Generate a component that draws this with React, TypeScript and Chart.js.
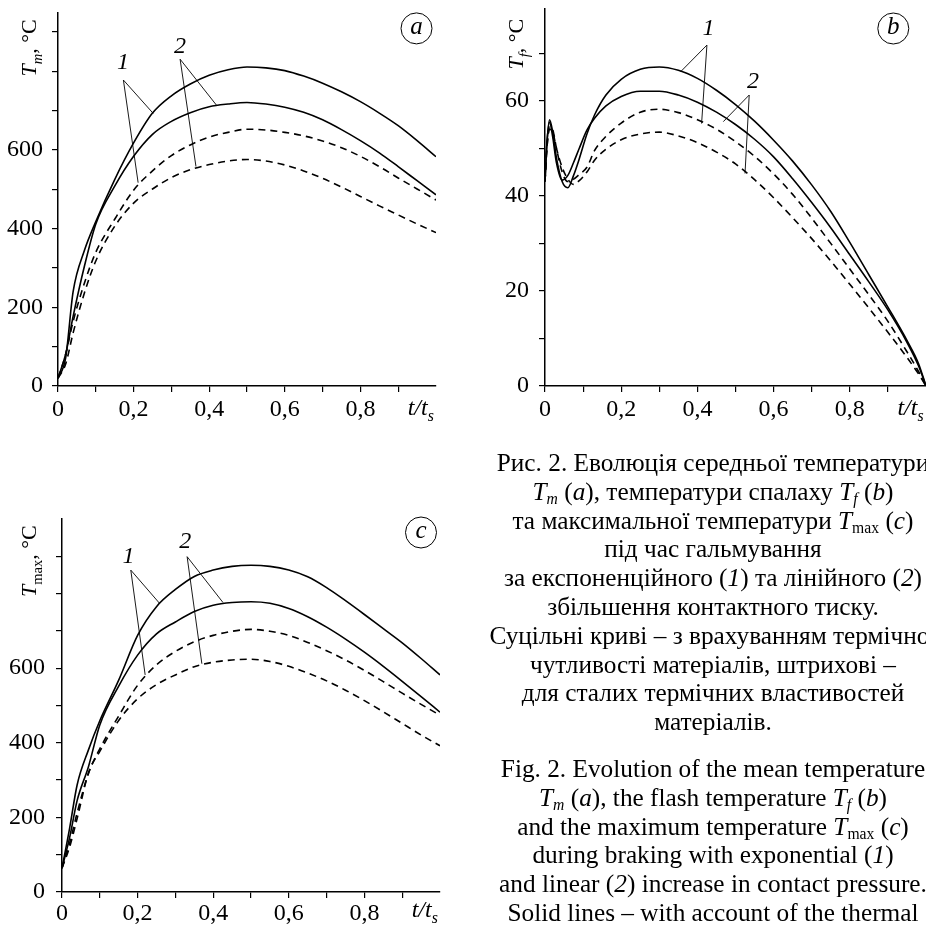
import React, { useEffect, useRef } from 'react';
import { Chart, registerables } from 'chart.js';

Chart.register(...registerables);

const SERIF = '"Liberation Serif", "Times New Roman", Times, serif';

// ---------- (a) mean temperature Tm ----------
const tA = [0, 0.02, 0.04, 0.07, 0.1, 0.15, 0.2, 0.25, 0.3, 0.35, 0.4, 0.45, 0.5, 0.55, 0.6, 0.65, 0.7, 0.75, 0.8, 0.85, 0.9, 0.95, 1.0];
const tmExpVar = [20, 70, 240, 345, 418, 525, 618, 694, 738, 768, 790, 804, 811, 809, 802, 788, 770, 748, 723, 694, 662, 624, 583];
const tmLinVar = [20, 80, 177, 305, 412, 508, 584, 640, 673, 695, 710, 717, 721, 717, 709, 696, 677, 652, 624, 593, 558, 522, 486];
const tmExpConst = [20, 80, 164, 262, 340, 424, 498, 547, 586, 613, 633, 645, 653, 651, 645, 636, 623, 606, 584, 558, 529, 501, 473];
const tmLinConst = [20, 55, 135, 237, 318, 406, 465, 501, 530, 550, 563, 572, 576, 572, 562, 547, 528, 506, 482, 458, 435, 412, 390];

// ---------- (b) flash temperature Tf ----------
const tB = [0, 0.005, 0.012, 0.02, 0.03, 0.045, 0.06, 0.075, 0.09, 0.11, 0.13, 0.16, 0.2, 0.25, 0.3, 0.35, 0.4, 0.45, 0.5, 0.55, 0.6, 0.65, 0.7, 0.75, 0.8, 0.85, 0.9, 0.95, 0.98, 1.0];
const tfExpVar = [43, 51, 56, 53.5, 48, 43, 41.7, 44.3, 47.8, 53, 57, 61.2, 64.5, 66.6, 67.1, 66.4, 64.7, 62.2, 59.2, 55.7, 51.7, 47.3, 42.3, 36.7, 30.2, 23.4, 16.6, 9.6, 4.8, 0];
const tfLinVar = [43, 51, 55.5, 52.5, 47, 43.3, 44.3, 47, 50, 53.8, 56.3, 58.9, 60.9, 62.0, 62.0, 61.2, 59.7, 57.6, 55.0, 51.9, 48.2, 43.6, 38.6, 33.3, 27.6, 21.9, 16.0, 9.2, 4.3, 0];
const tfExpConst = [43, 50, 54.5, 54, 50, 45, 43, 43.5, 44.5, 46, 49.5, 52.5, 55.3, 57.6, 58.2, 57.5, 56.0, 54.0, 51.4, 48.3, 44.6, 40.3, 35.3, 30.0, 24.6, 19.2, 13.6, 7.2, 3.1, 0];
const tfLinConst = [43, 50, 54, 53.5, 50, 46, 43.5, 42.4, 43.2, 45, 47.5, 49.8, 51.8, 53.0, 53.4, 52.6, 51.2, 49.2, 46.7, 43.4, 39.6, 35.4, 31.0, 26.3, 21.4, 16.4, 11.3, 6.0, 2.6, 0];

// ---------- (c) maximum temperature Tmax ----------
const tC = [0, 0.02, 0.04, 0.07, 0.1, 0.15, 0.2, 0.25, 0.3, 0.35, 0.4, 0.45, 0.5, 0.55, 0.6, 0.65, 0.7, 0.75, 0.8, 0.85, 0.9, 0.95, 1.0];
const tmaxExpVar = [64, 170, 287, 381, 459, 568, 688, 765, 811, 846, 863, 873, 876, 873, 863, 845, 816, 781, 744, 706, 668, 626, 582];
const tmaxLinVar = [64, 145, 245, 336, 448, 552, 635, 692, 724, 752, 769, 776, 778, 774, 760, 738, 710, 678, 643, 605, 565, 524, 482];
const tmaxExpConst = [64, 130, 212, 318, 384, 472, 554, 609, 645, 671, 688, 699, 704, 699, 688, 669, 647, 622, 594, 564, 533, 503, 474];
const tmaxLinConst = [64, 120, 197, 319, 377, 460, 518, 556, 582, 604, 616, 622, 624, 618, 605, 587, 566, 541, 513, 483, 452, 421, 392];

// leader annotations (data coordinates)
type Leader = { text: string; at: [number, number]; from: [number, number]; to: [number, number][] };
const leadersA: Leader[] = [
  { text: '1', at: [0.172, 821], from: [0.173, 778], to: [[0.252, 693], [0.212, 517]] },
  { text: '2', at: [0.323, 862], from: [0.323, 831], to: [[0.421, 712], [0.365, 558]] },
];
const leadersB: Leader[] = [
  { text: '1', at: [0.429, 75.2], from: [0.425, 71.7], to: [[0.356, 66.1], [0.411, 55.2]] },
  { text: '2', at: [0.546, 64.0], from: [0.536, 61.2], to: [[0.468, 55.6], [0.525, 44.7]] },
];
const leadersC: Leader[] = [
  { text: '1', at: [0.176, 900], from: [0.182, 863], to: [[0.258, 774], [0.220, 582]] },
  { text: '2', at: [0.326, 938], from: [0.331, 899], to: [[0.426, 776], [0.370, 612]] },
];

type Seg = { t: string; it?: boolean; sub?: boolean };

function drawRich(ctx: CanvasRenderingContext2D, segs: Seg[], size: number) {
  let x = 0;
  ctx.textAlign = 'left';
  ctx.textBaseline = 'alphabetic';
  for (const s of segs) {
    const fs = s.sub ? size * 0.66 : size;
    ctx.font = `${s.it ? 'italic ' : ''}${fs}px ${SERIF}`;
    const dy = s.sub ? size * 0.25 : 0;
    ctx.fillText(s.t, x, dy);
    x += ctx.measureText(s.t).width;
  }
}

type Series = { data: number[]; dashed: boolean };
type PanelProps = {
  left: number; top: number; width: number; height: number;
  padTop: number; padRight: number; yWidth: number; xHeight: number;
  t: number[]; series: Series[];
  yMax: number; yStep: number; yLabels: number[]; yTickMax: number; yPad: number; xPad: number;
  title: Seg[]; titleDx: number; titleDy: number;
  letter: string; circDx: number; circDy: number;
  xLabelBase: number;
  leaders: Leader[];
};

function Panel(p: PanelProps) {
  const ref = useRef<HTMLCanvasElement | null>(null);
  useEffect(() => {
    if (!ref.current) return;
    const deco = {
      id: 'deco',
      afterDraw(chart: any) {
        const ctx: CanvasRenderingContext2D = chart.ctx;
        const ca = chart.chartArea;
        const xs = chart.scales.x;
        const ys = chart.scales.y;
        ctx.save();
        ctx.fillStyle = '#000';
        ctx.strokeStyle = '#000';
        // y-axis title (rotated)
        ctx.save();
        ctx.translate(ca.left + p.titleDx, ca.top + p.titleDy);
        ctx.rotate(-Math.PI / 2);
        drawRich(ctx, p.title, 22);
        ctx.restore();
        // x-axis label t/t_s
        ctx.save();
        ctx.translate(xs.getPixelForValue(0.925), ca.bottom + p.xLabelBase);
        drawRich(ctx, [{ t: 't/t', it: true }, { t: 's', it: true, sub: true }], 24);
        ctx.restore();
        // circled letter
        const cx = ca.right + p.circDx;
        const cy = ca.top + p.circDy;
        ctx.lineWidth = 1;
        ctx.beginPath();
        ctx.arc(cx, cy, 15.5, 0, Math.PI * 2);
        ctx.stroke();
        ctx.font = `italic 25px ${SERIF}`;
        ctx.textAlign = 'center';
        ctx.textBaseline = 'middle';
        ctx.fillText(p.letter, cx, cy - 1);
        // leaders
        ctx.lineWidth = 0.9;
        for (const L of p.leaders) {
          const fx = xs.getPixelForValue(L.from[0]);
          const fy = ys.getPixelForValue(L.from[1]);
          for (const e of L.to) {
            ctx.beginPath();
            ctx.moveTo(fx, fy);
            ctx.lineTo(xs.getPixelForValue(e[0]), ys.getPixelForValue(e[1]));
            ctx.stroke();
          }
          ctx.font = `italic 24px ${SERIF}`;
          ctx.textAlign = 'center';
          ctx.textBaseline = 'middle';
          ctx.fillText(L.text, xs.getPixelForValue(L.at[0]), ys.getPixelForValue(L.at[1]));
        }
        ctx.restore();
      },
    };
    const chart = new Chart(ref.current, {
      type: 'line',
      data: {
        datasets: p.series.map((s) => ({
          data: p.t.map((x, i) => ({ x, y: s.data[i] })),
          borderColor: '#000',
          borderWidth: 1.6,
          borderDash: s.dashed ? [7, 5] : [],
          pointRadius: 0,
          fill: false,
          cubicInterpolationMode: 'monotone' as const,
        })),
      },
      options: {
        animation: false,
        responsive: false,
        maintainAspectRatio: false,
        events: [],
        layout: { padding: { top: p.padTop, right: p.padRight, left: 0, bottom: 0 } },
        plugins: { legend: { display: false }, tooltip: { enabled: false } },
        scales: {
          x: {
            type: 'linear',
            min: 0,
            max: 1,
            border: { display: true, color: '#000', width: 1.5 },
            grid: {
              drawOnChartArea: false,
              drawTicks: true,
              tickLength: 6,
              lineWidth: 1.2,
              color: (c: any) => (c.tick && c.tick.value > 0.99 ? 'rgba(0,0,0,0)' : '#000'),
            },
            ticks: {
              stepSize: 0.1,
              autoSkip: false,
              maxRotation: 0,
              minRotation: 0,
              includeBounds: false,
              padding: p.xPad,
              color: '#000',
              font: { family: SERIF, size: 24 },
              callback: (v: any) => {
                const k = Math.round(Number(v) * 10);
                if (k % 2 !== 0 || k >= 10) return '';
                return k === 0 ? '0' : '0,' + k;
              },
            },
            afterFit: (s: any) => {
              s.height = p.xHeight;
              s.paddingLeft = 0; s.paddingRight = 0; s.paddingTop = 0; s.paddingBottom = 0;
            },
          },
          y: {
            type: 'linear',
            min: 0,
            max: p.yMax,
            border: { display: true, color: '#000', width: 1.5 },
            grid: {
              drawOnChartArea: false,
              drawTicks: true,
              tickLength: 6,
              lineWidth: 1.2,
              color: (c: any) => (c.tick && c.tick.value > p.yTickMax ? 'rgba(0,0,0,0)' : '#000'),
            },
            ticks: {
              stepSize: p.yStep,
              autoSkip: false,
              includeBounds: false,
              padding: p.yPad,
              color: '#000',
              font: { family: SERIF, size: 24 },
              callback: (v: any) => (p.yLabels.includes(Math.round(Number(v))) ? String(Math.round(Number(v))) : ''),
            },
            afterFit: (s: any) => {
              s.width = p.yWidth;
              s.paddingLeft = 0; s.paddingRight = 0; s.paddingTop = 0; s.paddingBottom = 0;
            },
          },
        },
      } as any,
      plugins: [deco as any],
    });
    return () => chart.destroy();
  }, []);
  return (
    <canvas
      ref={ref}
      width={p.width}
      height={p.height}
      style={{ position: 'absolute', left: p.left, top: p.top, width: p.width, height: p.height, display: 'block' }}
    />
  );
}

const subStyle: React.CSSProperties = { fontSize: '0.62em', verticalAlign: '-0.28em', lineHeight: 0 };

const T = (s: string, upright = false) => (
  <span>
    <i>T</i>
    <sub style={subStyle}>{upright ? s : <i>{s}</i>}</sub>
  </span>
);

const uaLines: React.ReactNode[] = [
  <>Рис. 2. Еволюція середньої температури</>,
  <>{T('m')} (<i>a</i>), температури спалаху {T('f')} (<i>b</i>)</>,
  <>та максимальної температури {T('max', true)} (<i>c</i>)</>,
  <>під час гальмування</>,
  <>за експоненційного (<i>1</i>) та лінійного (<i>2</i>)</>,
  <>збільшення контактного тиску.</>,
  <>Суцільні криві – з врахуванням термічної</>,
  <>чутливості матеріалів, штрихові –</>,
  <>для сталих термічних властивостей</>,
  <>матеріалів.</>,
];
const enLines: React.ReactNode[] = [
  <>Fig. 2. Evolution of the mean temperature</>,
  <>{T('m')} (<i>a</i>), the flash temperature {T('f')} (<i>b</i>)</>,
  <>and the maximum temperature {T('max', true)} (<i>c</i>)</>,
  <>during braking with exponential (<i>1</i>)</>,
  <>and linear (<i>2</i>) increase in contact pressure.</>,
  <>Solid lines – with account of the thermal</>,
];

function Caption({ lines, top }: { lines: React.ReactNode[]; top: number }) {
  return (
    <div style={{ position: 'absolute', left: 413, top, width: 600, fontFamily: SERIF, fontSize: 25.3, lineHeight: '28.8px', textAlign: 'center', color: '#000' }}>
      {lines.map((l, i) => (
        <div key={i} style={{ whiteSpace: 'nowrap', height: 28.8 }}>{l}</div>
      ))}
    </div>
  );
}

export default function App() {
  return (
    <div style={{ position: 'absolute', left: 0, top: 0, width: 926, height: 931, overflow: 'hidden', background: '#fff' }}>
      <Panel
        left={0} top={0} width={460} height={430}
        padTop={12.4} padRight={24} yWidth={58} xHeight={44}
        t={tA}
        series={[
          { data: tmExpVar, dashed: false },
          { data: tmLinVar, dashed: false },
          { data: tmExpConst, dashed: true },
          { data: tmLinConst, dashed: true },
        ]}
        yMax={950} yStep={100} yLabels={[0, 200, 400, 600]} yTickMax={900} yPad={9} xPad={3}
        title={[{ t: 'T', it: true }, { t: 'm', it: true, sub: true }, { t: ', °C' }]}
        titleDx={-22} titleDy={64}
        letter="a" circDx={-19.5} circDy={16}
        xLabelBase={29}
        leaders={leadersA}
      />
      <Panel
        left={460} top={0} width={466} height={430}
        padTop={8.5} padRight={0} yWidth={85} xHeight={44}
        t={tB}
        series={[
          { data: tfExpVar, dashed: false },
          { data: tfLinVar, dashed: false },
          { data: tfExpConst, dashed: true },
          { data: tfLinConst, dashed: true },
        ]}
        yMax={79.4} yStep={10} yLabels={[0, 20, 40, 60]} yTickMax={70} yPad={10} xPad={3}
        title={[{ t: 'T', it: true }, { t: 'f', it: true, sub: true }, { t: ', °C' }]}
        titleDx={-22} titleDy={61}
        letter="b" circDx={-32.7} circDy={20}
        xLabelBase={29}
        leaders={leadersB}
      />
      <Panel
        left={0} top={460} width={460} height={471}
        padTop={59} padRight={20} yWidth={62} xHeight={39}
        t={tC}
        series={[
          { data: tmaxExpVar, dashed: false },
          { data: tmaxLinVar, dashed: false },
          { data: tmaxExpConst, dashed: true },
          { data: tmaxLinConst, dashed: true },
        ]}
        yMax={1000} yStep={100} yLabels={[0, 200, 400, 600]} yTickMax={900} yPad={11} xPad={1}
        title={[{ t: 'T', it: true }, { t: 'max', sub: true }, { t: ', °C' }]}
        titleDx={-26} titleDy={78}
        letter="c" circDx={-19} circDy={13.5}
        xLabelBase={25}
        leaders={leadersC}
      />
      <Caption lines={uaLines} top={448} />
      <Caption lines={enLines} top={754} />
    </div>
  );
}
